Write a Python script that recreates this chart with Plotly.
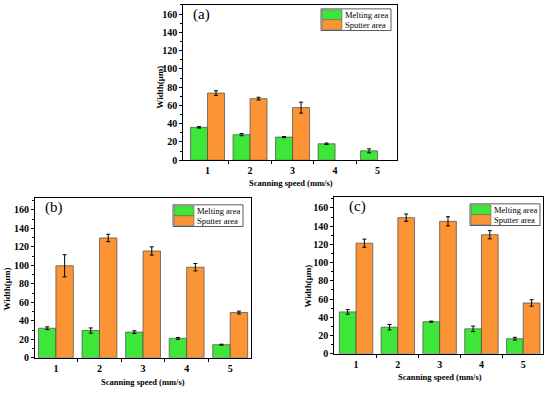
import plotly.graph_objects as go

speeds = [1, 2, 3, 4, 5]
tick_labels = ["1", "2", "3", "4", "5"]

# Panel (a)
melt_a = [36, 28, 25.3, 18, 10.3]
melt_a_err = [0.8, 1.2, 0.6, 0.8, 2.2]
sput_a = [73.5, 67.4, 57.6, None, None]
sput_a_err = [2.5, 1.5, 6.0, 0, 0]

# Panel (b)
melt_b = [32, 29.5, 27.8, 21, 14.2]
melt_b_err = [1.5, 2.8, 1.5, 1.0, 0.5]
sput_b = [99.6, 129.7, 115.6, 98, 49]
sput_b_err = [12, 4, 4.5, 4, 1.5]

# Panel (c)
melt_c = [46, 29.2, 35.3, 27.4, 16.6]
melt_c_err = [2.5, 3, 0.6, 3, 1.5]
sput_c = [121.3, 149.3, 145.3, 130.6, 55.8]
sput_c_err = [4.5, 4, 5, 4.5, 3.5]

series_names = ["Melting area", "Sputter area"]
panel_labels = ["(a)", "(b)", "(c)"]
x_title = "Scanning speed (mm/s)"
y_title = "Width(μm)"

GREEN = "#3fe63a"
ORANGE = "#fb9434"
FONT = "Liberation Serif"
W, H = 550, 395

panels = [
    dict(melt=melt_a, me=melt_a_err, sput=sput_a, se=sput_a_err,
         box=(183.3, 396.7, 5, 162.7), xr=[0.43, 5.45], yr=[0, 170],
         ytitle=(160, 89), xtitle=(291, 186), plabel=(201, 15),
         leg=(321, 9)),
    dict(melt=melt_b, me=melt_b_err, sput=sput_b, se=sput_b_err,
         box=(35, 250.7, 201, 363.3), xr=[0.52, 5.47], yr=[0, 173],
         ytitle=(7, 294), xtitle=(143, 388), plabel=(54, 211),
         leg=(173, 208)),
    dict(melt=melt_c, me=melt_c_err, sput=sput_c, se=sput_c_err,
         box=(334.3, 543.3, 200, 359.3), xr=[0.48, 5.48], yr=[0, 172],
         ytitle=(308, 291), xtitle=(440, 382.5), plabel=(357, 210),
         leg=(470, 207)),
]

fig = go.Figure()
annotations = []
shapes = []


def ann(text, px, py, size, angle=0, xanchor="center", weight="normal"):
    return dict(text=text, x=px / W, y=1 - py / H, xref="paper", yref="paper",
                xanchor=xanchor, yanchor="middle", textangle=angle, showarrow=False,
                font=dict(family=FONT, size=size, color="black", weight=weight))


for i, p in enumerate(panels):
    sfx = "" if i == 0 else str(i + 1)
    xa, ya = "x" + sfx, "y" + sfx
    for name, vals, errs, col in [(series_names[0], p["melt"], p["me"], GREEN),
                                  (series_names[1], p["sput"], p["se"], ORANGE)]:
        fig.add_trace(go.Bar(
            x=speeds, y=vals, name=name, xaxis=xa, yaxis=ya,
            marker=dict(color=col, line=dict(color="#4a4a4a", width=0.7)),
            error_y=dict(type="data", array=errs, color="black", thickness=1, width=2),
            showlegend=False,
        ))
    x0, x1, y0, y1 = p["box"]
    xdom = [x0 / W, x1 / W]
    ydom = [1 - y1 / H, 1 - y0 / H]
    axis_common = dict(showline=True, linecolor="black", linewidth=1.2, mirror=True,
                       showgrid=False, zeroline=False)
    tfont = dict(family=FONT, size=10, color="black", weight="bold")
    fig.layout["xaxis" + sfx] = dict(
        domain=xdom, range=p["xr"], anchor=ya, tickvals=speeds, ticktext=tick_labels,
        ticks="", tickfont=tfont, ticklabelstandoff=1,
        minor=dict(tickvals=[1.5, 2.5, 3.5, 4.5], ticks="outside", ticklen=3, tickcolor="black"),
        **axis_common)
    fig.layout["yaxis" + sfx] = dict(
        domain=ydom, range=p["yr"], anchor=xa, tickvals=list(range(0, 161, 20)),
        ticks="outside", ticklen=3, tickcolor="black", tickfont=tfont,
        minor=dict(dtick=10, ticks="outside", ticklen=2, tickcolor="black"),
        **axis_common)
    tx, ty = p["ytitle"]
    annotations.append(ann(y_title, tx, ty, 9, angle=-90, weight="bold"))
    tx, ty = p["xtitle"]
    annotations.append(ann(x_title, tx, ty, 8.5, weight="bold"))
    tx, ty = p["plabel"]
    annotations.append(ann(panel_labels[i], tx, ty, 15))
    # manual legend
    lx, ly = p["leg"]
    lw, lh = 70, 22
    shapes.append(dict(type="rect", xref="paper", yref="paper",
                       x0=lx / W, x1=(lx + lw) / W, y0=1 - (ly + lh) / H, y1=1 - ly / H,
                       line=dict(color="#333333", width=0.8), fillcolor="white"))
    for j, col in enumerate([GREEN, ORANGE]):
        sy0 = ly + 1 + j * 10
        shapes.append(dict(type="rect", xref="paper", yref="paper",
                           x0=(lx + 1) / W, x1=(lx + 21) / W,
                           y0=1 - (sy0 + 10) / H, y1=1 - sy0 / H,
                           line=dict(color="#555555", width=0.5), fillcolor=col))
        annotations.append(ann(series_names[j], lx + 22, sy0 + 5, 8.5, xanchor="left"))

fig.update_layout(
    width=W, height=H, margin=dict(l=0, r=0, t=0, b=0),
    paper_bgcolor="white", plot_bgcolor="white",
    barmode="group", bargap=0.2, bargroupgap=0,
    annotations=annotations, shapes=shapes,
    font=dict(family=FONT, color="black"),
)

fig.write_html("out.html", config={"displayModeBar": False},
               post_script="document.body.style.margin='0';document.body.style.overflow='hidden';")
